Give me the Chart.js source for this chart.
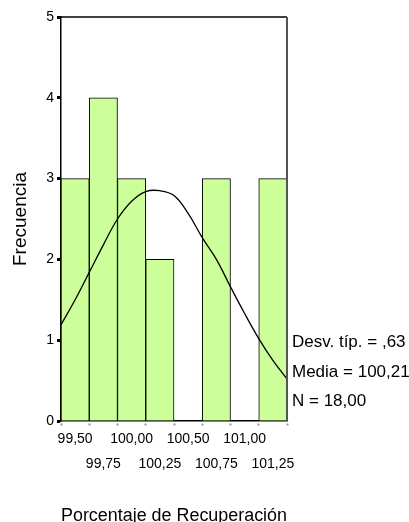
<!DOCTYPE html>
<html>
<head>
<meta charset="utf-8">
<script src="https://cdn.jsdelivr.net/npm/chart.js@4.4.0/dist/chart.umd.min.js"></script>
<style>
  html, body { margin: 0; padding: 0; background: #fff; }
  canvas { display: block; }
</style>
</head>
<body>
<canvas id="histograma" width="409" height="522"></canvas>
<script>
const centrosClase = [99.50, 99.75, 100.00, 100.25, 100.50, 100.75, 101.00, 101.25];
const etiquetasX = ["99,50", "99,75", "100,00", "100,25", "100,50", "100,75", "101,00", "101,25"];
const frecuencias = [3, 4, 3, 2, 0, 3, 0, 3];

// curva normal
const curvaX = [99.375, 99.5, 99.625, 99.75, 99.875, 100.0, 100.125, 100.25, 100.375,
                100.5, 100.625, 100.75, 100.875, 101.0, 101.125, 101.25, 101.375];
const curvaY = [1.19, 1.50, 1.84, 2.18, 2.50, 2.72, 2.84, 2.85, 2.79,
                2.57, 2.27, 2.00, 1.66, 1.33, 1.02, 0.75, 0.52];

const estadisticos = ["Desv. típ. = ,63", "Media = 100,21", "N = 18,00"];

const fuente = "'Liberation Sans', Arial, sans-serif";
Chart.defaults.font.family = fuente;
Chart.defaults.color = "#000";

const marcoYTexto = {
  id: "marcoYTexto",
  afterDraw(chart) {
    const { ctx, chartArea: a } = chart;
    ctx.save();
    ctx.strokeStyle = "#000";
    ctx.lineWidth = 1.5;
    ctx.beginPath();
    ctx.moveTo(a.left, a.top);
    ctx.lineTo(a.right, a.top);
    ctx.stroke();
    ctx.strokeStyle = "#555";
    ctx.lineWidth = 2;
    ctx.beginPath();
    ctx.moveTo(a.right, a.top);
    ctx.lineTo(a.right, a.bottom);
    ctx.stroke();

    ctx.fillStyle = "#000";
    ctx.font = "17px " + fuente;
    ctx.textBaseline = "alphabetic";
    ctx.textAlign = "left";
    estadisticos.forEach((t, i) => {
      ctx.fillText(t, a.right + 5, a.bottom - 74 + i * 29.5);
    });
    ctx.restore();
  }
};

new Chart(document.getElementById("histograma"), {
  data: {
    datasets: [
      {
        type: "line",
        data: curvaX.map((x, i) => ({ x: x, y: curvaY[i] })),
        borderColor: "#000",
        borderWidth: 1.3,
        pointRadius: 0,
        tension: 0.4,
        fill: false,
        order: 0
      },
      {
        type: "bar",
        data: centrosClase.map((x, i) => ({ x: x, y: frecuencias[i] })),
        backgroundColor: "#ccff99",
        borderColor: "#000",
        borderWidth: 1,
        borderSkipped: "start",
        barPercentage: 1,
        categoryPercentage: 1,
        order: 1
      }
    ]
  },
  options: {
    responsive: false,
    animation: false,
    layout: { padding: { left: 0, right: 122, top: 17, bottom: 0 } },
    plugins: {
      legend: { display: false },
      tooltip: { enabled: false }
    },
    scales: {
      x: {
        type: "linear",
        offset: false,
        min: 99.375,
        max: 101.375,
        afterBuildTicks: (scale) => {
          scale.ticks = centrosClase.map(v => ({ value: v }));
        },
        afterFit: (scale) => { scale.height = 101; },
        ticks: {
          autoSkip: false,
          maxRotation: 0,
          minRotation: 0,
          padding: 1,
          font: { size: 14, lineHeight: 1.75 },
          callback: (v, i) => i % 2 === 0 ? [etiquetasX[i], ""] : ["", etiquetasX[i]]
        },
        grid: {
          drawOnChartArea: false,
          tickLength: 5,
          tickWidth: 2,
          tickColor: "#999",
          tickBorderDash: [2, 10],
          tickBorderDashOffset: 10
        },
        border: { display: true, color: "#000", width: 1.5 },
        title: {
          display: true,
          text: "Porcentaje de Recuperación",
          font: { size: 18, lineHeight: 0.7 },
          padding: { top: 0, bottom: 0 }
        }
      },
      y: {
        min: 0,
        max: 5,
        afterFit: (scale) => { scale.width = 61; },
        ticks: {
          stepSize: 1,
          padding: 3,
          font: { size: 14 }
        },
        grid: {
          drawOnChartArea: false,
          tickLength: 4,
          tickWidth: 3,
          tickColor: "#000"
        },
        border: { display: true, color: "#000", width: 1.5 },
        title: {
          display: true,
          text: "Frecuencia",
          font: { size: 19, lineHeight: 1 },
          padding: { top: 11, bottom: 0 }
        }
      }
    }
  },
  plugins: [marcoYTexto]
});
</script>
</body>
</html>
